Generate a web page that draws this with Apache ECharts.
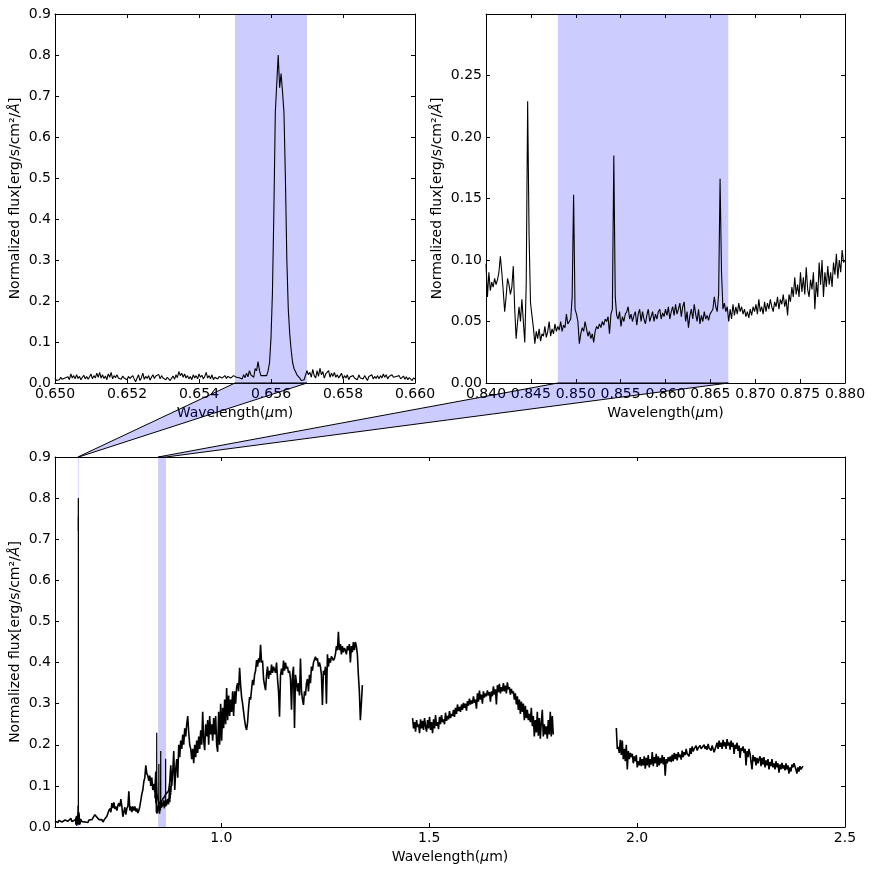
<!DOCTYPE html>
<html>
<head>
<meta charset="utf-8">
<title>Spectrum</title>
<script src="https://cdn.jsdelivr.net/npm/echarts@6/dist/echarts.min.js"></script>
<style>
html,body{margin:0;padding:0;background:#fff;}
#main{width:872px;height:872px;}
</style>
</head>
<body>
<div id="main"></div>
<script>
//H-alpha panel, one row = 0.001 um
var haStart = 0.650, haStep = 0.00004;
var haFlux = [
.012,.006,.01,.008,.014,.009,.006,.012,.01,.015,.008,.022,.012,.018,.01,.02,.011,.016,.008,.014,.019,.01,.016,.009,.015,
.022,.01,.018,.012,.024,.014,.026,.012,.02,.011,.017,.008,.022,.014,.026,.01,.018,.013,.02,.012,.015,.009,.017,.012,.016,
.008,.016,.011,.014,.018,.01,.003,.012,.02,.006,.013,.024,.009,.016,.011,.018,.007,.014,.02,.011,.017,.013,.021,.01,.018,
.012,.016,.008,.014,.01,.006,.012,.017,.009,.02,.013,.028,.018,.024,.014,.022,.012,.018,.01,.016,.008,.02,.012,.018,.01,
.022,.014,.019,.01,.016,.026,.012,.018,.01,.02,.008,.014,.018,.01,.016,.02,.012,.014,.018,.011,.016,.013,.012,.014,.018,
.02,.014,.018,.013,.016,.01,.02,.013,.024,.015,.03,.02,.022,.014,.035,.03,.052,.03,.018,.016,.018,.014,.018,.03,.05,
.11,.22,.42,.66,.73,.80,.72,.755,.71,.66,.5,.3,.18,.12,.08,.05,.035,.028,.02,.018,.012,.006,.002,.008,.012,
.03,.02,.026,.014,.033,.018,.012,.03,.016,.036,.02,.028,.012,.022,.018,.03,.014,.024,.016,.026,.014,.02,.012,.018,.024,
.01,.018,.012,.02,.008,.015,.011,.018,.012,.016,.008,.02,.012,.016,.01,.018,.014,.006,.016,.012,.02,.01,.016,.011,.018,
.01,.018,.012,.022,.014,.02,.01,.016,.012,.02,.014,.01,.016,.012,.018,.01,.014,.017,.009,.015,.008,.013,.01,.006,.012,
.01];

//Ca triplet panel, one row = 0.004 um
var caStart = 0.840, caStep = 0.00016;
var caFlux = [
.097,.07,.09,.075,.082,.078,.085,.08,.084,.09,.103,.09,.075,.058,.07,.085,.08,.072,.078,.095,.06,.036,.05,.062,.05,
.068,.05,.033,.08,.229,.12,.065,.055,.045,.032,.042,.036,.044,.034,.04,.038,.046,.037,.042,.05,.038,.044,.04,.048,.042,
.046,.043,.05,.042,.047,.045,.056,.048,.05,.052,.07,.153,.06,.056,.05,.032,.04,.045,.042,.05,.044,.038,.042,.036,.04,
.033,.042,.046,.044,.048,.045,.05,.047,.052,.05,.054,.04,.056,.06,.185,.07,.055,.052,.058,.046,.054,.05,.056,.058,.062,
.052,.056,.05,.055,.058,.047,.056,.06,.05,.058,.052,.048,.055,.06,.05,.054,.058,.05,.056,.052,.058,.06,.052,.057,.054,
.06,.055,.062,.052,.058,.062,.055,.064,.056,.06,.065,.054,.062,.066,.05,.058,.045,.055,.06,.052,.064,.056,.05,.06,.048,
.055,.05,.058,.052,.055,.051,.056,.058,.06,.07,.062,.058,.072,.166,.09,.06,.065,.058,.062,.05,.06,.052,.064,.055,.062,
.056,.065,.058,.062,.056,.06,.054,.058,.053,.06,.055,.062,.058,.064,.056,.068,.058,.062,.056,.066,.058,.065,.06,.068,.062,
.058,.066,.062,.07,.06,.068,.064,.072,.062,.068,.055,.072,.066,.078,.07,.086,.072,.08,.07,.09,.074,.086,.072,.094,.076,
.07,.084,.076,.09,.06,.082,.07,.098,.08,.1,.07,.09,.078,.095,.08,.09,.078,.098,.088,.105,.085,.1,.09,.108,.098,
.1];

//full spectrum, three pieces with the telluric gaps between them
//the H-alpha and Ca pieces above are drawn over it as well
var fullStep = 0.0024;
var visStart = 0.6, hStart = 1.46, kStart = 1.95;
var visFlux = [
.014,.012,.018,.011,.016,.013,.02,.012,.015,.01,.017,.013,.019,.014,.011,.016,.021,.013,.017,.012,
.017,.014,.021,.018,.02,.016,.018,.013,.017,.014,.012,.016,.015,.011,.017,.014,.013,.018,.022,.019,
.03,.032,.024,.026,.018,.021,.014,.018,.012,.016,.02,.017,.026,.03,.04,.045,.036,.058,.046,.06,
.044,.05,.04,.052,.058,.05,.068,.05,.025,.036,.048,.03,.045,.05,.087,.04,.05,.036,.05,.04,
.05,.038,.045,.034,.04,.05,.065,.08,.09,.11,.12,.15,.13,.125,.112,.125,.1,.12,.09,.105,
.085,.135,.08,.07,.06,.055,.06,.06,.068,.07,.075,.08,.08,.085,.09,.11,.15,.1,.135,.185,
.09,.14,.165,.12,.2,.17,.21,.19,.225,.2,.24,.22,.25,.27,.23,.2,.19,.165,.19,.155,
.2,.17,.21,.18,.22,.19,.235,.2,.28,.21,.187,.25,.22,.26,.2,.27,.225,.25,.21,.265,
.225,.27,.2,.183,.28,.2,.3,.21,.29,.24,.31,.25,.338,.26,.32,.27,.31,.28,.33,.27,
.33,.3,.34,.35,.33,.387,.345,.316,.3,.28,.26,.245,.236,.255,.29,.316,.31,.335,.358,.345,
.37,.38,.406,.39,.41,.4,.443,.4,.405,.36,.345,.333,.37,.39,.36,.38,.37,.395,.375,.39,
.39,.375,.4,.36,.33,.268,.37,.385,.37,.405,.38,.4,.385,.39,.375,.38,.36,.285,.37,.39,
.241,.37,.35,.33,.35,.32,.41,.33,.31,.297,.33,.32,.35,.36,.33,.37,.35,.39,.38,.4,
.4,.414,.405,.41,.39,.4,.39,.37,.297,.38,.37,.39,.3,.42,.39,.41,.4,.415,.41,.405,
.41,.42,.44,.43,.475,.43,.445,.42,.44,.425,.435,.43,.42,.44,.43,.445,.4,.44,.425,.45,
.43,.45,.44,.42,.37,.33,.26,.3,.345];
var hFlux = [
.265,.24,.255,.232,.26,.243,.25,.228,.262,.24,.258,.236,.265,.245,.232,.26,.24,.268,.236,.255,
.228,.262,.24,.272,.246,.255,.238,.268,.25,.272,.255,.262,.25,.278,.258,.27,.262,.282,.265,.275,
.27,.285,.268,.29,.275,.298,.282,.292,.28,.298,.285,.302,.29,.3,.283,.306,.295,.312,.298,.308,
.3,.318,.302,.31,.288,.325,.305,.332,.31,.322,.3,.33,.315,.325,.318,.332,.32,.328,.305,.33,
.318,.342,.322,.335,.298,.345,.328,.348,.325,.34,.33,.35,.33,.344,.325,.352,.335,.34,.322,.336,
.325,.33,.31,.325,.298,.318,.285,.31,.275,.305,.28,.3,.26,.295,.265,.285,.26,.275,.255,.29,
.245,.27,.22,.26,.23,.28,.222,.265,.215,.255,.285,.22,.25,.225,.245,.215,.26,.225,.28,.22,
.27,.225];
var kFlux = [
.241,.19,.195,.18,.212,.175,.21,.165,.19,.16,.2,.14,.185,.165,.18,.17,.178,.155,.172,.16,
.175,.145,.16,.15,.17,.148,.165,.15,.172,.142,.168,.15,.175,.145,.165,.152,.182,.148,.17,.155,
.178,.146,.172,.15,.168,.155,.175,.152,.17,.125,.165,.155,.17,.16,.172,.158,.176,.16,.18,.165,
.178,.162,.182,.17,.176,.164,.186,.17,.182,.175,.19,.178,.18,.172,.192,.178,.196,.184,.19,.186,
.198,.186,.192,.188,.198,.19,.194,.186,.2,.19,.196,.188,.202,.192,.196,.186,.198,.19,.182,.18,
.186,.205,.19,.21,.195,.205,.19,.212,.196,.206,.19,.214,.198,.206,.188,.21,.195,.205,.178,.2,
.19,.205,.185,.198,.168,.192,.185,.196,.18,.19,.15,.185,.17,.19,.178,.182,.14,.175,.16,.17,
.15,.168,.155,.165,.172,.148,.168,.152,.17,.145,.162,.15,.165,.14,.158,.148,.165,.145,.155,.14,
.16,.145,.155,.132,.152,.14,.156,.142,.15,.138,.155,.14,.15,.13,.145,.135,.152,.145,.155,.148,
.14,.13,.145,.135,.148,.14,.138,.148];

//shaded wavelength ranges
var haBand = [0.655, 0.657];
var caBand = [0.848, 0.867];

//tick labels
var haTicksX = [0.650, 0.652, 0.654, 0.656, 0.658, 0.660];
var caTicksX = [0.840, 0.845, 0.850, 0.855, 0.860, 0.865, 0.870, 0.875, 0.880];
var fullTicksX = [1.0, 1.5, 2.0, 2.5];
var fluxTicks = [0, 0.1, 0.2, 0.3, 0.4, 0.5, 0.6, 0.7, 0.8, 0.9];
var caTicksY = [0, 0.05, 0.10, 0.15, 0.20, 0.25, 0.30];

var xName = 'Wavelength({i|\u03bc}m)';
var yName = 'Normalized flux[erg/s/cm\u00b2/{i|\u00c5}]';
var fontName = '"DejaVu Sans"';
var textStyle = {
	fontFamily: fontName,
	fontSize: 14,
	color: '#000',
	rich: {
		i: { fontFamily: fontName, fontSize: 14, fontStyle: 'italic', color: '#000' }
	}
};

var myChart = echarts.init(document.getElementById('main'));

//turn start + step + flux into [x, y] pairs
function spectrum(start, step, flux){
	var out = [];
	for(var i = 0; i < flux.length; i++){
		out.push([start + i * step, flux[i]]);
	}
	return out;
}

//each panel gets 2 x axes and 2 y axes, so ticks show on all four sides
function xAxes(grid, min, max, ticks, digits){
	var line = { show: true, onZero: false, lineStyle: { color: '#000', width: 1 } };
	var base = {
		type: 'value', gridIndex: grid, min: min, max: max, scale: true,
		splitLine: { show: false }, axisLine: line,
		axisTick: { show: true, inside: true, length: 4, customValues: ticks, lineStyle: { color: '#000' } }
	};
	return [
		Object.assign({}, base, {
			position: 'bottom',
			name: xName, nameLocation: 'middle', nameGap: 23, nameTextStyle: textStyle, nameMoveOverlap: false,
			axisLabel: {
				show: true, margin: 4, customValues: ticks, hideOverlap: false,
				fontFamily: fontName, fontSize: 14, color: '#000',
				formatter: function(v){ return v.toFixed(digits); }
			}
		}),
		Object.assign({}, base, { position: 'top', axisLabel: { show: false } })
	];
}
function yAxes(grid, max, ticks, digits, hideTop){
	var line = { show: true, onZero: false, lineStyle: { color: '#000', width: 1 } };
	var base = {
		type: 'value', gridIndex: grid, min: 0, max: max,
		splitLine: { show: false }, axisLine: line,
		axisTick: { show: true, inside: true, length: 4, customValues: ticks, lineStyle: { color: '#000' } }
	};
	return [
		Object.assign({}, base, {
			position: 'left',
			name: yName, nameLocation: 'middle', nameGap: digits == 1 ? 33 : 42, nameRotate: 90,
			nameTextStyle: textStyle, nameMoveOverlap: false,
			axisLabel: {
				show: true, margin: 4, customValues: ticks, hideOverlap: false,
				fontFamily: fontName, fontSize: 14, color: '#000',
				formatter: function(v){
					if(hideTop && v >= max - 1e-9){ return ''; }
					return v.toFixed(digits);
				}
			}
		}),
		Object.assign({}, base, { position: 'right', axisLabel: { show: false } })
	];
}

function lineSeries(axis, data, width, band){
	var s = {
		type: 'line', xAxisIndex: axis, yAxisIndex: axis, data: data,
		showSymbol: false, symbol: 'none', sampling: false, silent: true,
		lineStyle: { color: '#000', width: width }, z: 3
	};
	if(band){
		s.markArea = {
			silent: true,
			itemStyle: { color: 'rgba(0,0,255,0.2)', borderWidth: 0 },
			data: band.map(function(b){ return [{ xAxis: b[0] }, { xAxis: b[1] }]; })
		};
	}
	return s;
}

//the zoom connectors between the small panels and the full spectrum
function connector(params, api){
	var i = params.dataIndex;
	var band = i == 0 ? haBand : caBand;
	var axis = i == 0 ? 0 : 2;
	var a = myChart.convertToPixel({ xAxisIndex: axis, yAxisIndex: axis }, [band[0], 0]);
	var b = myChart.convertToPixel({ xAxisIndex: axis, yAxisIndex: axis }, [band[1], 0]);
	var c = myChart.convertToPixel({ xAxisIndex: 4, yAxisIndex: 4 }, [band[1], 0.9]);
	var d = myChart.convertToPixel({ xAxisIndex: 4, yAxisIndex: 4 }, [band[0], 0.9]);
	return {
		type: 'polygon',
		shape: { points: [a, b, c, d] },
		style: { fill: 'rgba(0,0,255,0.2)', stroke: '#000', lineWidth: 1 }
	};
}

var haLine = spectrum(haStart, haStep, haFlux);
var caLine = spectrum(caStart, caStep, caFlux);

var option = {
	animation: false,
	backgroundColor: '#fff',
	grid: [
		{ left: 55, top: 14, width: 360, height: 369 },
		{ left: 486, top: 14, width: 359, height: 369 },
		{ left: 55, top: 457, width: 790, height: 370 }
	],
	xAxis: [].concat(
		xAxes(0, 0.650, 0.660, haTicksX, 3),
		xAxes(1, 0.840, 0.880, caTicksX, 3),
		xAxes(2, 0.6, 2.5, fullTicksX, 1)
	),
	yAxis: [].concat(
		yAxes(0, 0.9, fluxTicks, 1, false),
		yAxes(1, 0.3, caTicksY, 2, true),
		yAxes(2, 0.9, fluxTicks, 1, false)
	),
	series: [
		lineSeries(0, haLine, 1.1, [haBand]),
		lineSeries(2, caLine, 1.1, [caBand]),
		lineSeries(4, spectrum(visStart, fullStep, visFlux), 1.6, [haBand, caBand]),
		lineSeries(4, haLine, 1),
		lineSeries(4, caLine, 1.2),
		lineSeries(4, spectrum(hStart, fullStep, hFlux), 1.6),
		lineSeries(4, spectrum(kStart, fullStep, kFlux), 1.6),
		{
			type: 'custom', coordinateSystem: 'none', silent: true, z: 10,
			renderItem: connector,
			data: [0, 1]
		}
	]
};
myChart.setOption(option);
</script>
</body>
</html>
